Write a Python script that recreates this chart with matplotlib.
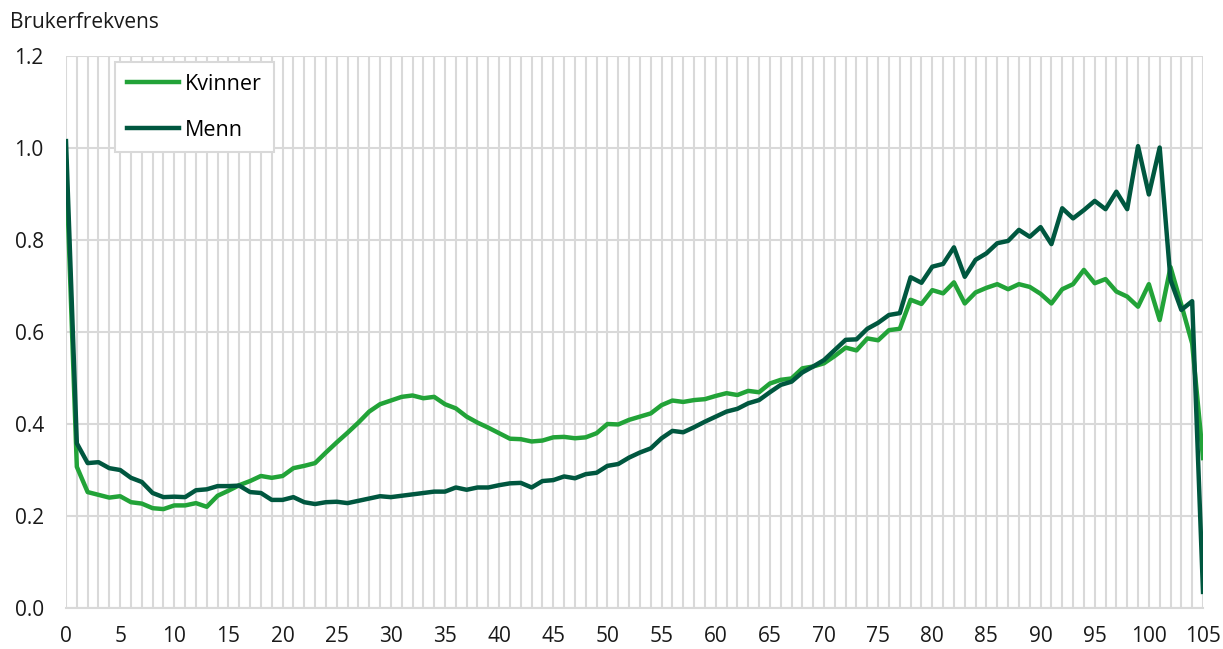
import matplotlib
matplotlib.use("Agg")
import matplotlib.pyplot as plt
import numpy as np

plt.rcParams['font.family'] = ['Open Sans', 'DejaVu Sans']

ages = list(range(0, 106))

kvinner = [0.97, 0.307, 0.252, 0.246, 0.240, 0.243, 0.230, 0.227, 0.217, 0.215,
           0.223, 0.223, 0.228, 0.220, 0.244, 0.255, 0.267, 0.276, 0.287, 0.283,
           0.287, 0.304, 0.309, 0.315, 0.338, 0.360, 0.381, 0.403, 0.427, 0.443,
           0.451, 0.459, 0.462, 0.456, 0.459, 0.443, 0.434, 0.416, 0.403, 0.392,
           0.380, 0.368, 0.367, 0.362, 0.364, 0.371, 0.372, 0.369, 0.371, 0.380,
           0.400, 0.399, 0.409, 0.416, 0.423, 0.441, 0.451, 0.448, 0.452, 0.454,
           0.461, 0.467, 0.463, 0.472, 0.469, 0.488, 0.496, 0.499, 0.521, 0.525,
           0.532, 0.548, 0.566, 0.560, 0.586, 0.582, 0.604, 0.607, 0.670, 0.661,
           0.691, 0.684, 0.708, 0.662, 0.686, 0.696, 0.704, 0.693, 0.704, 0.698,
           0.683, 0.662, 0.693, 0.704, 0.735, 0.706, 0.715, 0.688, 0.677, 0.655,
           0.704, 0.626, 0.741, 0.659, 0.575, 0.326]

menn = [1.015, 0.358, 0.315, 0.317, 0.304, 0.300, 0.283, 0.274, 0.250, 0.241,
        0.242, 0.241, 0.256, 0.258, 0.265, 0.265, 0.266, 0.252, 0.250, 0.235,
        0.235, 0.241, 0.230, 0.226, 0.230, 0.231, 0.228, 0.233, 0.238, 0.243,
        0.241, 0.244, 0.247, 0.250, 0.253, 0.253, 0.262, 0.257, 0.262, 0.262,
        0.267, 0.271, 0.272, 0.262, 0.276, 0.278, 0.286, 0.282, 0.291, 0.294,
        0.309, 0.313, 0.327, 0.338, 0.347, 0.369, 0.385, 0.382, 0.393, 0.405,
        0.416, 0.427, 0.433, 0.445, 0.452, 0.469, 0.485, 0.492, 0.512, 0.525,
        0.539, 0.561, 0.583, 0.584, 0.607, 0.620, 0.637, 0.641, 0.719, 0.707,
        0.742, 0.748, 0.784, 0.720, 0.757, 0.771, 0.793, 0.798, 0.822, 0.807,
        0.828, 0.791, 0.869, 0.847, 0.865, 0.885, 0.867, 0.905, 0.867, 1.004,
        0.899, 1.001, 0.713, 0.648, 0.667, 0.035]

x_ticks = list(range(0, 106, 5))
y_ticks = [0.0, 0.2, 0.4, 0.6, 0.8, 1.0, 1.2]

fig = plt.figure(figsize=(12.23, 6.49), dpi=100)
ax = fig.add_axes([66/1223, 1 - 608/649, (1203-66)/1223, (608-56)/649])

grid_c = '#d9d9d9'
ax.set_xticks(ages, minor=True)
ax.set_xticks(x_ticks)
ax.set_yticks(y_ticks)
ax.grid(True, which='both', axis='x', color=grid_c, linewidth=1.5, zorder=0)
ax.grid(True, which='major', axis='y', color=grid_c, linewidth=1.5, zorder=0)
ax.set_axisbelow(True)

ax.plot(ages, kvinner, color='#22a338', linewidth=3.2, label='Kvinner', zorder=3)
ax.plot(ages, menn, color='#00573f', linewidth=3.2, label='Menn', zorder=4)

ax.set_xlim(0, 105)
ax.set_ylim(0, 1.2)
ax.set_yticklabels([f'{v:.1f}' for v in y_ticks])
for s in ['top', 'right', 'left']:
    ax.spines[s].set_visible(False)
ax.spines['bottom'].set_color(grid_c)
ax.spines['bottom'].set_linewidth(1.5)
ax.tick_params(axis='both', which='both', length=0, labelsize=15, colors='#1a1a1a')
ax.tick_params(axis='y', pad=16)
ax.tick_params(axis='x', pad=13)

fig.text(10/1223, 1 - 23/649, 'Brukerfrekvens', fontsize=15, color='#1a1a1a',
         ha='left', va='center')

leg = ax.legend(loc='upper left', bbox_to_anchor=((115-66)/1137, 1 - (62-56)/552),
                fontsize=15.5, handlelength=2.4, handletextpad=0.3,
                labelspacing=1.15, borderpad=0.55, borderaxespad=0,
                frameon=True, fancybox=False,
                edgecolor=grid_c, framealpha=1)
leg.get_frame().set_linewidth(1.5)

fig.savefig('out.png', dpi=100, facecolor='white')
